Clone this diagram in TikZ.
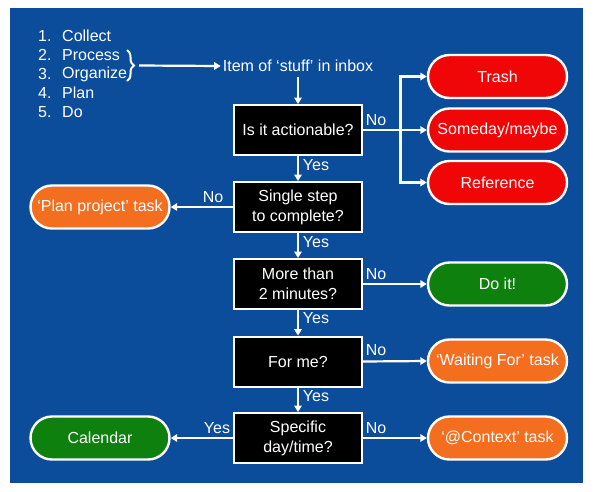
\documentclass[tikz,border=0pt]{standalone}
\usepackage{fontspec}
\setmainfont{Liberation Sans}
\usetikzlibrary{shapes.misc,arrows.meta,decorations.pathreplacing}
\definecolor{bg}{RGB}{12,77,155}
\definecolor{pred}{RGB}{240,6,6}
\definecolor{porange}{RGB}{243,110,30}
\definecolor{pgreen}{RGB}{14,128,14}
\begin{document}
\begin{tikzpicture}[x=1pt,y=-1pt,
  every node/.style={font=\fontsize{16}{20}\selectfont, text=white},
  decision/.style={draw=white, line width=2pt, fill=black, minimum width=128pt, minimum height=50pt, align=center, inner sep=0pt},
  pill/.style={rounded rectangle, draw=white, line width=2.4pt, minimum width=139pt, minimum height=43pt, inner sep=0pt},
  conn/.style={draw=white, line width=2.2pt, -{Triangle[width=7.5pt,length=6.5pt]}},
  plain/.style={draw=white, line width=2pt},
  lbl/.style={inner sep=0pt},
  item/.style={anchor=west, inner sep=0pt}]
\useasboundingbox (0,0) rectangle (594,491);
\fill[white] (0,0) rectangle (594,491);
\fill[bg] (10,8) rectangle (583,483);

% list
\node[item] (n1) at (38,36) {1.};
\node[item] (n2) at (38,55) {2.};
\node[item] (n3) at (38,74) {3.};
\node[item] (n4) at (38,93) {4.};
\node[item] (n5) at (38,112) {5.};
\node[item] (w1) at (62,36) {Collect};
\node[item] (w2) at (62,55) {Process};
\node[item] (w3) at (62,74) {Organize};
\node[item] (w4) at (62,93) {Plan};
\node[item] (w5) at (62,112) {Do};
\draw[plain, decorate, decoration={brace, amplitude=7pt, aspect=0.5}] (127,50) -- (127,81);
\coordinate (bt) at (139,65.5);

\node[inner sep=2pt] (stuff) at (298,66) {Item of ‘stuff’ in inbox};

% decisions
\node[decision] (q1) at (298,130) {Is it actionable?};
\node[decision] (q2) at (298,207) {Single step\\to complete?};
\node[decision] (q3) at (298,284) {More than\\2 minutes?};
\node[decision] (q4) at (298,361.5) {For me?};
\node[decision] (q5) at (298,438) {Specific\\day/time?};

% outcomes
\node[pill, fill=pred] (trash) at (497.5,76.5) {Trash};
\node[pill, fill=pred] (someday) at (497.5,130) {Someday/maybe};
\node[pill, fill=pred] (ref) at (497.5,182.5) {Reference};
\node[pill, fill=porange] (plan) at (100,207) {‘Plan project’ task};
\node[pill, fill=pgreen] (doit) at (497.5,284) {Do it!};
\node[pill, fill=porange] (wait) at (497.5,361) {‘Waiting For’ task};
\node[pill, fill=porange] (ctx) at (497.5,438) {‘@Context’ task};
\node[pill, fill=pgreen] (cal) at (100,438) {Calendar};

% connectors
\draw[conn] (bt) -- (stuff.west);
\draw[conn, shorten <=3pt] (stuff.south) -- (q1.north);
\coordinate (br) at (400.5,130);
\draw[conn] (q1.east) -- (someday.west);
\draw[conn] (br) |- (trash.west);
\draw[conn] (br) |- (ref.west);
\draw[conn] (q1.south) -- (q2.north);
\draw[conn] (q2.west) -- (plan.east);
\draw[conn] (q2.south) -- (q3.north);
\draw[conn] (q3.east) -- (doit.west);
\draw[conn] (q3.south) -- (q4.north);
\draw[conn] (q4.east) -- (wait.west);
\draw[conn] (q4.south) -- (q5.north);
\draw[conn] (q5.east) -- (ctx.west);
\draw[conn] (q5.west) -- (cal.east);

% labels
\node[lbl] (l1) at (376,120) {No};
\node[lbl] (l2) at (316,165) {Yes};
\node[lbl] (l3) at (213,197) {No};
\node[lbl] (l4) at (316,242) {Yes};
\node[lbl] (l5) at (376,274) {No};
\node[lbl] (l6) at (316,318) {Yes};
\node[lbl] (l7) at (376,350) {No};
\node[lbl] (l8) at (316,396) {Yes};
\node[lbl] (l9) at (376,428) {No};
\node[lbl] (l10) at (217,428) {Yes};
\end{tikzpicture}
\end{document}
